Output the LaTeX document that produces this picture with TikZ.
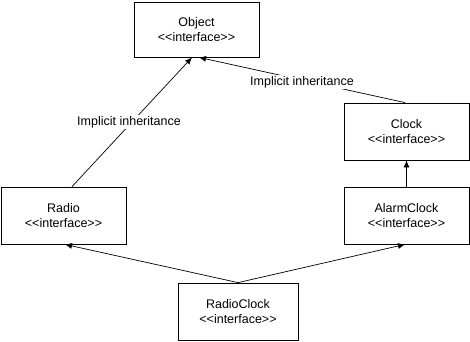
\documentclass[tikz,border=0pt]{standalone}
\usepackage{fontspec}
\setmainfont{Liberation Sans}
\usetikzlibrary{arrows.meta}
\begin{document}
\begin{tikzpicture}[x=1pt,y=-1pt,
  iface/.style={draw=black,line width=0.8pt,fill=white,minimum width=125pt,minimum height=57pt,align=center,inner sep=0pt,font=\fontsize{12.5}{14.5}\selectfont},
  conn/.style={draw=black,line width=0.7pt,-{Latex[length=7pt,width=6pt]}},
  lbl/.style={fill=white,inner sep=1pt,font=\fontsize{12.5}{14.5}\selectfont}]
\useasboundingbox (0,0) rectangle (470,341);
\node[iface,minimum height=55pt] (object) at (196.5,29.5) {Object\\<{}<interface>{}>};
\node[iface] (clock) at (406.5,131.5) {Clock\\<{}<interface>{}>};
\node[iface] (alarm) at (406.5,215.5) {AlarmClock\\<{}<interface>{}>};
\node[iface] (radio) at (63.5,215.5) {Radio\\<{}<interface>{}>};
\node[iface,minimum width=120pt] (rc) at (238,311.5) {RadioClock\\<{}<interface>{}>};
\draw[conn] ([xshift=8.5pt]radio.north) -- node[lbl,pos=0.5,xshift=-3pt]{Implicit inheritance} ([xshift=-4.5pt]object.south);
\draw[conn] ([xshift=-1.5pt]clock.north) -- node[lbl,pos=0.5,yshift=-2pt]{Implicit inheritance} ([xshift=2.5pt]object.south);
\draw[conn] (alarm.north) -- (clock.south);
\draw[conn] (rc.north) -- ([xshift=1.5pt]radio.south);
\draw[conn] (rc.north) -- ([xshift=-1.5pt]alarm.south);
\end{tikzpicture}
\end{document}
